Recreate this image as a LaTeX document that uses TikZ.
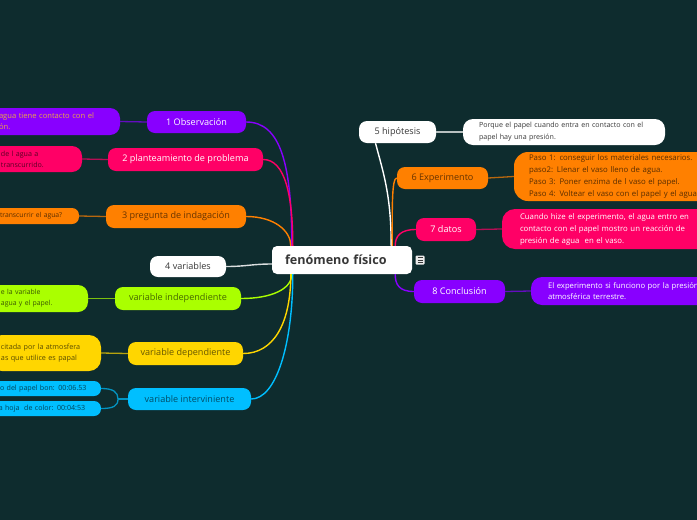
\documentclass[tikz,border=0pt]{standalone}
\usepackage{fontspec}
\setmainfont{Open Sans}
\definecolor{bg}{RGB}{14,44,46}
\definecolor{cpurple}{RGB}{136,0,255}
\definecolor{cpink}{RGB}{255,0,102}
\definecolor{corange}{RGB}{255,128,0}
\definecolor{clime}{RGB}{170,255,0}
\definecolor{cyellow}{RGB}{255,214,0}
\definecolor{ccyan}{RGB}{0,191,255}
\definecolor{cgold}{RGB}{235,165,70}
\definecolor{cdark}{RGB}{55,55,55}
\begin{document}
\begin{tikzpicture}[x=1pt,y=-1pt,
  branch/.style={rounded corners=8pt, inner sep=0pt, fill=#1, text=#1!40!black,
    font=\fontsize{9.1}{10}\selectfont},
  leaf/.style={rounded corners=10pt, inner ysep=0pt, align=left, fill=#1, text=#1!35!black},
  conn/.style={line width=1.4pt, #1},
  sub/.style={line width=1.3pt, #1!70!bg}]
\useasboundingbox (0,0) rectangle (697,520);
\fill[bg] (0,0) rectangle (697,520);

% central
\node[rounded corners=5pt, fill=white, text=cdark, minimum width=140pt, minimum height=28pt,
  inner ysep=0pt, inner xsep=13pt, text width=114pt, align=left,
  font=\bfseries\fontsize{12.6}{14}\selectfont] (c) at (342,260) {fenómeno físico};
\node[fill=white!85!gray, rounded corners=1pt, minimum size=9pt, inner sep=0pt] (note) at (420,260) {};
\draw[cdark, line width=0.7pt] ([shift={(-2.5pt,-2.5pt)}]note.center) -- ++(5,0)
  ([shift={(-2.5pt,0pt)}]note.center) -- ++(5,0)
  ([shift={(-2.5pt,2.5pt)}]note.center) -- ++(5,0);

% left branches
\node[branch=cpurple, text=white, minimum width=99pt, minimum height=22pt] (b1) at (196.5,122) {1 Observación};
\node[branch=cpink, text=white, minimum width=155pt, minimum height=23pt] (b2) at (185.5,159.5) {2 planteamiento de problema};
\node[branch=corange, minimum width=140pt, minimum height=23pt] (b3) at (176,216.5) {3 pregunta de indagación};
\node[branch=white, text=cdark, minimum width=76pt, minimum height=21pt] (b4) at (188,266.5) {4 variables};
\node[branch=clime, minimum width=126pt, minimum height=23pt] (vi) at (178,298.5) {variable independiente};
\node[branch=cyellow, minimum width=115pt, minimum height=23pt] (vd) at (185.5,353.5) {variable dependiente};
\node[branch=ccyan, minimum width=123pt, minimum height=22pt] (vv) at (189.5,399) {variable interviniente};

% right branches
\node[branch=white, text=cdark, minimum width=77pt, minimum height=22pt] (b5) at (397.5,132) {5 hipótesis};
\node[branch=corange, minimum width=91pt, minimum height=22pt] (b6) at (442.5,178) {6 Experimento};
\node[branch=cpink, text=white, minimum width=60pt, minimum height=23pt] (b7) at (446,229.5) {7 datos};
\node[branch=cpurple, text=white, minimum width=91pt, minimum height=23pt] (b8) at (459.5,291.5) {8 Conclusión};

% left leaves
\node[leaf=cpurple, text=cgold, inner xsep=9pt, text width=112pt, minimum height=27pt,
  font=\fontsize{7.6}{11}\selectfont] (l1) at (55,121.5) {agua tiene contacto con el\\ón.};
\node[leaf=cpink, inner xsep=11pt, text width=70pt, minimum height=26pt,
  font=\fontsize{7.1}{11}\selectfont] (l2) at (36,159) {de l agua a\\transcurrido.};
\node[leaf=corange, rounded corners=7pt, inner xsep=10pt, text width=69pt, minimum height=16pt,
  font=\fontsize{6.8}{8}\selectfont] (l3) at (34.5,216) {transcurrir el agua?};
\node[leaf=clime, inner xsep=11pt, text width=76pt, minimum height=27pt,
  font=\fontsize{6.9}{11}\selectfont] (l4) at (39,298.5) {e la variable\\agua y el papel.};
\node[leaf=cyellow, rounded corners=12pt, inner xsep=11pt, text width=89pt, minimum height=36pt,
  font=\fontsize{7.2}{11}\selectfont] (l5) at (45.5,353) {citada por la atmosfera\\as que utilice es papal};
\node[leaf=ccyan, rounded corners=7pt, inner xsep=10pt, text width=91pt, minimum height=15pt,
  font=\fontsize{7.1}{8}\selectfont] (l6) at (45.5,388.5) {o del papel bon: 00:06.53};
\node[leaf=ccyan, rounded corners=7pt, inner xsep=7pt, text width=97pt, minimum height=15pt,
  font=\fontsize{7.1}{8}\selectfont] (l7) at (45.5,408.5) {la hoja\ \ de color: 00:04:53};

% right leaves
\node[leaf=white, text=cdark, inner xsep=16pt, text width=170pt, minimum height=26pt,
  font=\fontsize{7.1}{12}\selectfont] (r5) at (564,132) {Porque el papel cuando entra en contacto con el\\papel hay una presión.};
\node[leaf=corange, rounded corners=14pt, inner xsep=15pt, text width=186pt, minimum height=49pt,
  font=\fontsize{7.8}{11.7}\selectfont] (r6) at (622,176.5) {Paso 1: conseguir los materiales necesarios.\\paso2: Llenar el vaso lleno de agua.\\Paso 3: Poner enzima de l vaso el papel.\\Paso 4: Voltear el vaso con el papel y el agua};
\node[leaf=cpink, text=white, rounded corners=13pt, inner xsep=18pt, text width=192pt, minimum height=40pt,
  font=\fontsize{7.8}{12}\selectfont] (r7) at (616,229) {Cuando hize el experimento, el agua entro en\\contacto con el papel mostro un reacción de\\presión de agua\ \ en el vaso.};
\node[leaf=cpurple, text=white, rounded corners=11pt, inner xsep=17pt, text width=175pt, minimum height=28pt,
  font=\fontsize{7.7}{11.5}\selectfont] (r8) at (635.5,291) {El experimento si funciono por la presión\\atmosférica terrestre.};

% connectors from centre
\draw[conn=cpurple] (b1.east) .. controls +(35,0) and +(0,-80) .. ([xshift=20pt]c.north west);
\draw[conn=cpink] (b2.east) .. controls +(22,0) and +(0,-50) .. ([xshift=21pt]c.north west);
\draw[conn=corange] (b3.east) .. controls +(28,0) and +(0,-15) .. ([xshift=19pt]c.north west);
\draw[conn=white!85!bg] (b4.east) .. controls +(20,0) and +(-20,0) .. ([yshift=-4pt]c.west);
\draw[conn=clime] (vi.east) .. controls +(30,0) and +(0,15) .. ([xshift=20pt]c.south west);
\draw[conn=cyellow] (vd.east) .. controls +(30,0) and +(0,50) .. ([xshift=19pt]c.south west);
\draw[conn=ccyan] (vv.east) .. controls +(25,0) and +(0,70) .. ([xshift=21pt]c.south west);

\draw[conn=white] ([xshift=-22pt]b5.south) .. controls +(8,30) and +(0,-50) .. ([xshift=-21pt]c.north east);
\draw[conn=corange] (b6.west) .. controls +(-5,0) and +(0,-40) .. ([xshift=-20pt]c.north east);
\draw[conn=cpink] (b7.west) .. controls +(-15,0) and +(0,-10) .. ([xshift=-17pt]c.north east);
\draw[conn=cpurple] (b8.west) .. controls +(-15,0) and +(0,10) .. ([xshift=-17pt]c.south east);

% leaf connectors
\draw[sub=cpurple] (b1.west) -- (l1.east);
\draw[sub=cpink] (b2.west) -- (l2.east);
\draw[sub=corange] (b3.west) -- (l3.east);
\draw[sub=clime] (vi.west) -- (l4.east);
\draw[sub=cyellow] (vd.west) -- (l5.east);
\coordinate (vj) at (118,399);
\draw[sub=ccyan] (vv.west) -- (vj);
\draw[sub=ccyan] (l6.east) .. controls +(12,0) and +(0,-7) .. (vj) .. controls +(0,7) and +(12,0) .. (l7.east);
\draw[sub=white] (b5.east) -- (r5.west);
\draw[sub=corange] (b6.east) -- (r6.west);
\draw[sub=cpink] (b7.east) -- (r7.west);
\draw[sub=cpurple] (b8.east) -- (r8.west);
\end{tikzpicture}
\end{document}
